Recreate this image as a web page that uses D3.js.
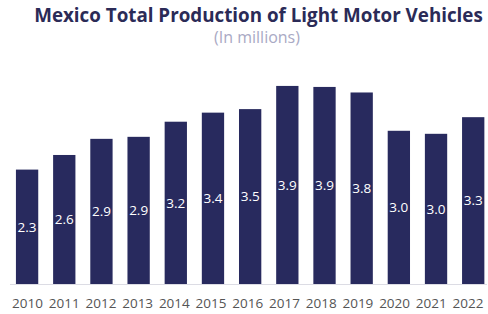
<!DOCTYPE html>
<html>
<head>
<meta charset="utf-8">
<script src="https://cdn.jsdelivr.net/npm/d3@7"></script>
<style>
  body { margin: 0; background: #fff; }
  svg { display: block; font-family: "Open Sans", sans-serif; }
</style>
</head>
<body>
<div id="chart"></div>
<script>
let years = ["2010", "2011", "2012", "2013", "2014", "2015", "2016",
  "2017", "2018", "2019", "2020", "2021", "2022"];
let production = [2.27, 2.56, 2.88, 2.92, 3.22, 3.40, 3.47,
  3.93, 3.91, 3.80, 3.04, 2.98, 3.31];

let width = 488,
    height = 314;

let svg = d3.select("#chart")
  .append("svg")
  .attr("width", width)
  .attr("height", height);

let x = d3.scaleBand()
  .domain(years)
  .range([8.5, 491.8])
  .paddingInner(0.4)
  .paddingOuter(0.2);

// year labels sit on a slightly tighter spacing than the bars
let xLabel = d3.scalePoint()
  .domain(years)
  .range([27, 467.5]);

// baseline at 284, ~50.4px per million
let y = d3.scaleLinear()
  .domain([0, 4])
  .range([284, 82.4]);

svg.append("text")
  .attr("x", 258.5)
  .attr("y", 22)
  .attr("text-anchor", "middle")
  .style("font-size", "18.8px")
  .style("font-weight", "bold")
  .style("fill", "#2b2b57")
  .text("Mexico Total Production of Light Motor Vehicles");

svg.append("text")
  .attr("x", 257)
  .attr("y", 43)
  .attr("text-anchor", "middle")
  .style("font-size", "16px")
  .style("fill", "#a9a9c4")
  .text("(In millions)");

svg.selectAll("rect")
  .data(years)
  .enter()
  .append("rect")
  .attr("x", d => x(d))
  .attr("y", (d, i) => y(production[i]))
  .attr("width", x.bandwidth())
  .attr("height", (d, i) => y(0) - y(production[i]))
  .attr("fill", "#282a5e");

svg.append("g")
  .selectAll("text")
  .data(years)
  .enter()
  .append("text")
  .attr("x", d => x(d) + x.bandwidth() / 2)
  .attr("y", (d, i) => (y(production[i]) + y(0)) / 2)
  .attr("dy", "0.35em")
  .attr("text-anchor", "middle")
  .style("font-size", "13.5px")
  .style("fill", "#fff")
  .text((d, i) => production[i].toFixed(1));

svg.append("line")
  .attr("x1", 10)
  .attr("x2", 487)
  .attr("y1", y(0) + 0.5)
  .attr("y2", y(0) + 0.5)
  .attr("stroke", "#dcdce4");

let xAxis = svg.append("g")
  .attr("transform", `translate(0,${y(0)})`)
  .call(d3.axisBottom(xLabel).tickSize(0).tickPadding(14));

xAxis.select(".domain").remove();

xAxis.selectAll("text")
  .style("font-family", "\"Open Sans\", sans-serif")
  .style("font-size", "13.5px")
  .style("fill", "#555");
</script>
</body>
</html>
